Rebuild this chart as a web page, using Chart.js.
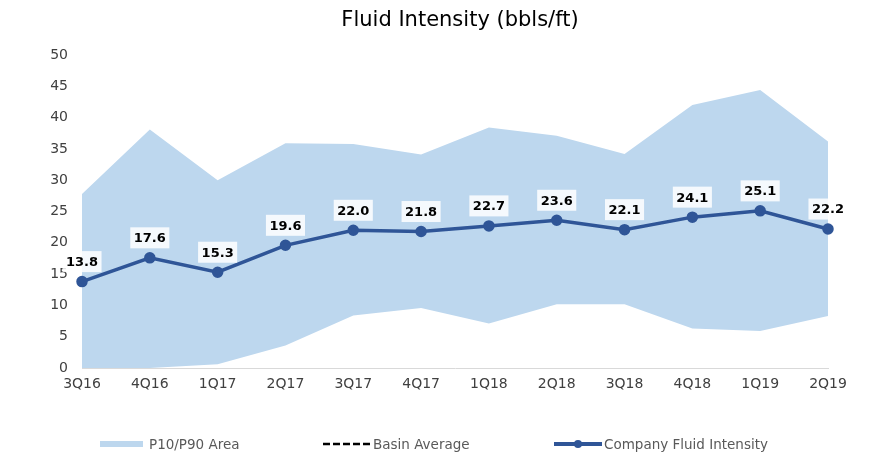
<!DOCTYPE html>
<html>
<head>
<meta charset="utf-8">
<script src="https://cdn.jsdelivr.net/npm/chart.js@4"></script>
<style>
  body { margin: 0; background: #fff; }
  #wrap { position: relative; width: 883px; height: 465px; }
  #title { position: absolute; top: 6px; left: 260px; width: 400px; text-align: center;
    font-family: "DejaVu Sans", sans-serif; font-size: 21px; line-height: 26px; color: #000; }
  #legend { position: absolute; top: 434px; left: 0; width: 883px; height: 20px;
    font-family: "DejaVu Sans", sans-serif; font-size: 13.5px; color: #595959; }
  .item { position: absolute; top: 0; line-height: 20px; white-space: nowrap; }
  .sw { position: absolute; }
</style>
</head>
<body>
<div id="wrap">
  <canvas id="chart" width="883" height="465"></canvas>
  <div id="title">Fluid Intensity (bbls/ft)</div>
  <div id="legend">
    <div class="sw" style="left:100px;top:7px;width:43px;height:6px;background:#bdd7ee"></div>
    <div class="item" style="left:149px">P10/P90 Area</div>
    <svg class="sw" style="left:323px;top:8px" width="48" height="4"><line x1="0" y1="2" x2="48" y2="2" stroke="#000" stroke-width="2.5" stroke-dasharray="7,3"/></svg>
    <div class="item" style="left:373px">Basin Average</div>
    <div class="sw" style="left:554px;top:8px;width:48px;height:4px;background:#2f5597"></div>
    <div class="sw" style="left:574px;top:6px;width:8px;height:8px;border-radius:50%;background:#2f5597"></div>
    <div class="item" style="left:604px">Company Fluid Intensity</div>
  </div>
</div>
<script>
// Data

const quarters = ["3Q16", "4Q16", "1Q17", "2Q17", "3Q17", "4Q17", "1Q18", "2Q18", "3Q18", "4Q18", "1Q19", "2Q19"];
const p90 = [27.8, 38.1, 30.0, 35.9, 35.8, 34.1, 38.4, 37.1, 34.2, 42.0, 44.4, 36.2];
const p10 = [0, 0, 0.6, 3.6, 8.4, 9.6, 7.1, 10.2, 10.2, 6.3, 5.9, 8.3];
const company = [13.8, 17.6, 15.3, 19.6, 22.0, 21.8, 22.7, 23.6, 22.1, 24.1, 25.1, 22.2];
const basin = [];

const font = "'DejaVu Sans', sans-serif";

// value labels with a light box above each company point
const valueLabels = {
  id: "valueLabels",
  afterDatasetsDraw(chart) {
    const ctx = chart.ctx;
    const meta = chart.getDatasetMeta(0);
    ctx.save();
    ctx.font = "bold 13px " + font;
    ctx.textAlign = "center";
    ctx.textBaseline = "middle";
    meta.data.forEach((pt, i) => {
      const txt = company[i].toFixed(1);
      const w = ctx.measureText(txt).width + 7;
      const h = 21;
      const cy = pt.y - 20;
      ctx.fillStyle = "rgba(255,255,255,0.85)";
      ctx.fillRect(pt.x - w / 2, cy - h / 2, w, h);
      ctx.fillStyle = "#000";
      ctx.fillText(txt, pt.x, cy + 1);
    });
    ctx.restore();
  },
};

new Chart(document.getElementById("chart"), {
  type: "line",
  data: {
    labels: quarters,
    datasets: [
      {
        label: "Company Fluid Intensity",
        data: company,
        borderColor: "#2f5597",
        backgroundColor: "#2f5597",
        borderWidth: 3.5,
        pointRadius: 4,
        pointHoverRadius: 4,
        tension: 0,
        order: 0,
      },
      {
        label: "Basin Average",
        data: basin,
        borderColor: "#000",
        borderDash: [5, 3],
        borderWidth: 2,
        pointRadius: 0,
        order: 1,
      },
      {
        label: "P90",
        data: p90,
        borderWidth: 0,
        pointRadius: 0,
        backgroundColor: "#bdd7ee",
        fill: "+1",
        order: 2,
      },
      {
        label: "P10",
        data: p10,
        borderWidth: 0,
        pointRadius: 0,
        fill: false,
        order: 3,
      },
    ],
  },
  options: {
    responsive: false,
    animation: false,
    layout: { padding: { left: 0, right: 55, top: 55, bottom: 67 } },
    plugins: {
      legend: { display: false },
      tooltip: { enabled: false },
      title: { display: false },
    },
    scales: {
      x: {
        offset: false,
        grid: { display: false, drawTicks: false },
        border: { color: "#d9d9d9", width: 1 },
        ticks: { color: "#404040", font: { family: font, size: 14 }, padding: 8, maxRotation: 0, autoSkip: false },
        afterFit: (s) => { s.height = 30; },
      },
      y: {
        min: 0,
        max: 50,
        grid: { display: false, drawTicks: false },
        border: { display: false },
        ticks: { stepSize: 5, color: "#404040", font: { family: font, size: 14 }, padding: 14 },
        afterFit: (s) => { s.width = 82; },
      },
    },
  },
  plugins: [valueLabels],
});
</script>
</body>
</html>
